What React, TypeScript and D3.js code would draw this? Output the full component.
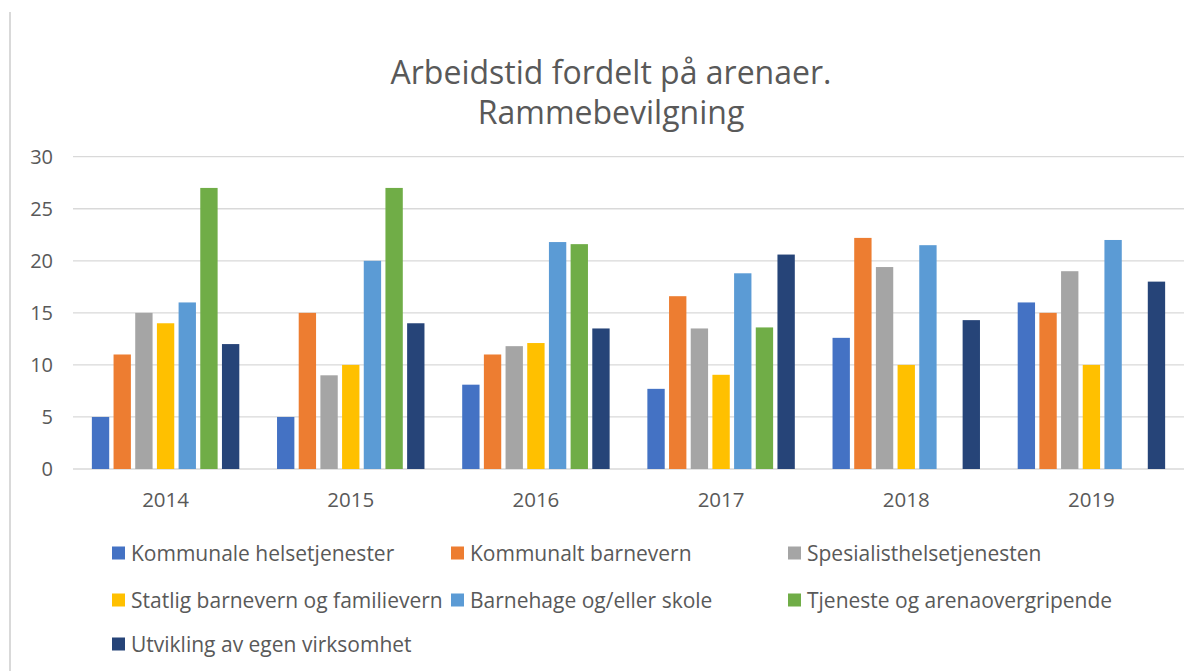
import React from "react";
import * as d3 from "d3";

const years = ["2014", "2015", "2016", "2017", "2018", "2019"];
const seriesNames = [
  "Kommunale helsetjenester",
  "Kommunalt barnevern",
  "Spesialisthelsetjenesten",
  "Statlig barnevern og familievern",
  "Barnehage og/eller skole",
  "Tjeneste og arenaovergripende",
  "Utvikling av egen virksomhet",
];
const seriesColors = ["#4472C4", "#ED7D31", "#A5A5A5", "#FFC000", "#5B9BD5", "#70AD47", "#264478"];

const kommunaleHelse = [5, 5, 8.1, 7.7, 12.6, 16];
const kommunaltBarnevern = [11, 15, 11, 16.6, 22.2, 15];
const spesialist = [15, 9, 11.8, 13.5, 19.4, 19];
const statligBarnevern = [14, 10, 12.1, 9.05, 10, 10];
const barnehageSkole = [16, 20, 21.8, 18.8, 21.5, 22];
const tjenesteOvergripende = [27, 27, 21.6, 13.6, 0, 0];
const utvikling = [12, 14, 13.5, 20.6, 14.3, 18];
const seriesValues = [
  kommunaleHelse,
  kommunaltBarnevern,
  spesialist,
  statligBarnevern,
  barnehageSkole,
  tjenesteOvergripende,
  utvikling,
];
const yTicks = [0, 5, 10, 15, 20, 25, 30];
const titleLines = ["Arbeidstid fordelt på arenaer.", "Rammebevilgning"];

const W = 1202;
const H = 671;
const FONT = "'Open Sans', 'Noto Sans', sans-serif";
const TXT = "#595959";

export default function App() {
  const x0 = d3.scaleBand<string>().domain(years).range([73, 1184]).paddingInner(0).paddingOuter(0);
  const x1 = d3
    .scaleBand<string>()
    .domain(seriesNames)
    .range([0, x0.bandwidth()])
    .paddingInner(0.2)
    .paddingOuter(0.87);
  const y = d3.scaleLinear().domain([0, 30]).range([469, 156.7]);

  const legendCols = [112, 451, 788];
  const legendRows = [553, 600, 644];

  return (
    <div style={{ position: "absolute", left: 0, top: 0 }}>
      <svg width={W} height={H} style={{ display: "block", background: "#fff" }}>
        <line x1={10} x2={10} y1={12} y2={H} stroke="#D9D9D9" strokeWidth={2} />
        {titleLines.map((t, i) => (
          <text
            key={t}
            x={611}
            y={84 + i * 40}
            textAnchor="middle"
            fontFamily={FONT}
            fontSize={32}
            fill={TXT}
          >
            {t}
          </text>
        ))}
        {yTicks.map((t) => (
          <g key={t}>
            <line x1={73} x2={1184} y1={y(t)} y2={y(t)} stroke="#D9D9D9" strokeWidth={t === 0 ? 1.6 : 1.3} />
            <text
              x={53}
              y={y(t)}
              dy="0.36em"
              textAnchor="end"
              fontFamily={FONT}
              fontSize={20}
              fill={TXT}
            >
              {t}
            </text>
          </g>
        ))}
        {years.map((yr, yi) => (
          <g key={yr} transform={`translate(${x0(yr)},0)`}>
            {seriesNames.map((s, si) => {
              const v = seriesValues[si][yi];
              if (!v) return null;
              return (
                <rect
                  key={s}
                  x={x1(s)}
                  y={y(v)}
                  width={x1.bandwidth()}
                  height={y(0) - y(v)}
                  fill={seriesColors[si]}
                />
              );
            })}
            <text
              x={x0.bandwidth() / 2}
              y={500}
              dy="0.36em"
              textAnchor="middle"
              fontFamily={FONT}
              fontSize={20.5}
              fill={TXT}
            >
              {yr}
            </text>
          </g>
        ))}
        {seriesNames.map((s, i) => {
          const cx = legendCols[i % 3];
          const cy = legendRows[Math.floor(i / 3)];
          return (
            <g key={s}>
              <rect x={cx} y={cy - 6.5} width={13} height={13} fill={seriesColors[i]} />
              <text x={cx + 19} y={cy} dy="0.36em" fontFamily={FONT} fontSize={21} fill={TXT}>
                {s}
              </text>
            </g>
          );
        })}
      </svg>
    </div>
  );
}
